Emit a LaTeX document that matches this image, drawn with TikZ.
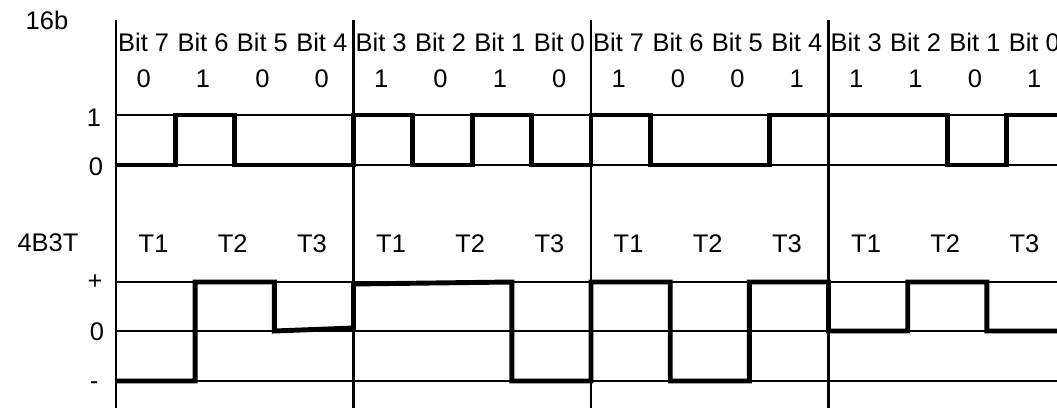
\documentclass[tikz,border=0pt]{standalone}
\usepackage{fontspec}
\setmainfont{Liberation Sans}
\usetikzlibrary{positioning}

\begin{document}
\begin{tikzpicture}[x=0.02cm, y=-0.02cm,
    every node/.style={font=\fontsize{14.5}{17}\selectfont, inner sep=0pt, anchor=base},
    gridline/.style={line width=1.1pt},
    divider/.style={line width=1.6pt},
    signal/.style={line width=2.8pt, line join=miter}]
            \useasboundingbox (0,0) rectangle (1057,408);
            \clip (0,0) rectangle (1057,408);

            % Level lines
            \foreach \y in {115,165,282,331,381}
                \draw[gridline] (116,\y) -- (1066,\y);

            % Nibble dividers
            \foreach \x in {116,353.5,591,828.5}
                \draw[divider] (\x,20) -- (\x,410);

            % 16b labels
            \node (lbl16b) at (47,30) {16b};
            \node (lvlone) at (94,127) {1};
            \node (lvlzero) at (96,176) {0};
            \foreach \k in {0,...,15} {
                \pgfmathtruncatemacro\bitno{7-mod(\k,8)}
                \node (bit\k) at ({114+59.375*(\k+0.5)},52) {Bit \bitno};
            }
            \foreach \v [count=\k from 0] in {0,1,0,0,1,0,1,0,1,0,0,1,1,1,0,1}
                \node (val\k) at ({114+59.375*(\k+0.5)},88) {\v};

            % Binary signal
            \draw[signal] (116,165) -- (175.4,165) -- (175.4,115) -- (234.75,115)
                -- (234.75,165) -- (353.5,165) -- (353.5,115) -- (412.9,115)
                -- (412.9,165) -- (472.25,165) -- (472.25,115) -- (531.6,115)
                -- (531.6,165) -- (591,165) -- (591,115) -- (650.4,115)
                -- (650.4,165) -- (769.1,165) -- (769.1,115) -- (947.25,115)
                -- (947.25,165) -- (1006.6,165) -- (1006.6,115) -- (1066,115);

            % 4B3T labels
            \node (lbl4b3t) at (48,252) {4B3T};
            \node (lvlplus) at (95,290) {+};
            \node (lvlnull) at (97,340) {0};
            \node (lvlminus) at (94,389) {-};
            \foreach \k in {0,...,11} {
                \pgfmathtruncatemacro\tno{mod(\k,3)+1}
                \node (sym\k) at ({114+79.167*(\k+0.5)},253) {T\tno};
            }

            % Ternary signal
            \draw[signal] (116,381) -- (195.2,381) -- (195.2,282) -- (274.3,282)
                -- (274.3,331) -- (353.5,328) -- (353.5,284) -- (511.8,282)
                -- (511.8,381) -- (591,381) -- (591,282) -- (670.2,282)
                -- (670.2,381) -- (749.3,381) -- (749.3,282) -- (828.5,282)
                -- (828.5,331) -- (907.7,331) -- (907.7,282) -- (986.8,282)
                -- (986.8,331) -- (1066,331);
        \end{tikzpicture}
\end{document}
